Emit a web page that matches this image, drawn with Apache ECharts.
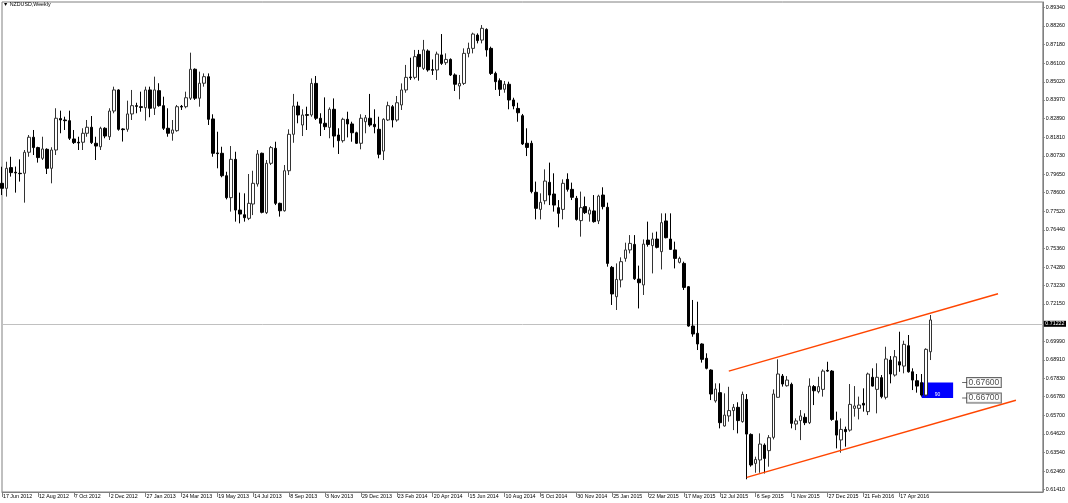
<!DOCTYPE html>
<html><head><meta charset="utf-8">
<script src="https://cdn.jsdelivr.net/npm/echarts@6/dist/echarts.min.js"></script>
<style>html,body{margin:0;padding:0;background:#fff}#c{width:1068px;height:503px}</style>
</head><body><div id="c"></div>
<script>
// Weekly NZDUSD candles (index 0 = week of 17 Jun 2012)
const opens = [0.7914,0.7885,0.8005,0.7978,0.7972,0.7972,0.8094,0.8181,0.8121,0.8059,0.8111,0.8001,0.8107,0.8289,0.8281,0.8277,0.8171,0.8152,0.8152,0.8204,0.8239,0.8146,0.8126,0.8233,0.8184,0.8333,0.8455,0.8229,0.8227,0.8316,0.8364,0.8358,0.8352,0.8455,0.8349,0.8451,0.8364,0.8233,0.8204,0.8219,0.8360,0.8358,0.8407,0.8575,0.8407,0.8494,0.8532,0.8287,0.8090,0.8088,0.7958,0.7831,0.8053,0.7759,0.7732,0.7711,0.7794,0.7910,0.8088,0.7744,0.8030,0.8117,0.7798,0.7755,0.7987,0.8198,0.8362,0.8252,0.8312,0.8310,0.8493,0.8291,0.8262,0.8238,0.8343,0.8194,0.8161,0.8285,0.8258,0.8207,0.8146,0.8271,0.8291,0.8256,0.8227,0.8101,0.8281,0.8358,0.8281,0.8368,0.8455,0.8530,0.8528,0.8661,0.8580,0.8681,0.8573,0.8571,0.8658,0.8613,0.8632,0.8542,0.8478,0.8493,0.8667,0.8696,0.8773,0.8744,0.8806,0.8696,0.8551,0.8509,0.8459,0.8488,0.8397,0.8348,0.8306,0.8146,0.8146,0.7862,0.7763,0.7813,0.7920,0.7852,0.7773,0.7763,0.7937,0.7879,0.7827,0.7698,0.7779,0.7736,0.7754,0.7696,0.7846,0.7775,0.7427,0.7257,0.7354,0.7479,0.7528,0.7560,0.7359,0.7325,0.7585,0.7553,0.7591,0.7518,0.7696,0.7591,0.7528,0.7456,0.7450,0.7315,0.7087,0.7045,0.6983,0.6900,0.6832,0.6653,0.6701,0.6508,0.6566,0.6597,0.6616,0.6533,0.6662,0.6459,0.6291,0.6311,0.6397,0.6365,0.6442,0.6674,0.6797,0.6741,0.6749,0.6519,0.6539,0.6558,0.6527,0.6736,0.6707,0.6720,0.6830,0.6826,0.6538,0.6427,0.6488,0.6484,0.6610,0.6610,0.6639,0.6591,0.6790,0.6720,0.6788,0.6674,0.6890,0.6803,0.6880,0.6855,0.6973,0.6822,0.6770,0.6759,0.6687,0.6938];
const highs = [0.8010,0.8039,0.8068,0.8011,0.8053,0.8107,0.8194,0.8223,0.8126,0.8184,0.8117,0.8123,0.8349,0.8335,0.8300,0.8335,0.8223,0.8184,0.8233,0.8281,0.8304,0.8184,0.8242,0.8239,0.8349,0.8474,0.8459,0.8233,0.8393,0.8455,0.8381,0.8445,0.8474,0.8474,0.8532,0.8494,0.8416,0.8349,0.8281,0.8368,0.8368,0.8445,0.8671,0.8580,0.8561,0.8551,0.8551,0.8314,0.8213,0.8126,0.7981,0.8130,0.8097,0.7860,0.7856,0.7968,0.7987,0.8107,0.8092,0.8049,0.8130,0.8155,0.7802,0.8020,0.8227,0.8432,0.8387,0.8343,0.8358,0.8522,0.8536,0.8320,0.8412,0.8354,0.8406,0.8233,0.8294,0.8329,0.8271,0.8213,0.8314,0.8310,0.8432,0.8343,0.8300,0.8291,0.8387,0.8368,0.8420,0.8493,0.8600,0.8642,0.8687,0.8687,0.8745,0.8690,0.8632,0.8677,0.8779,0.8667,0.8638,0.8551,0.8542,0.8696,0.8729,0.8787,0.8783,0.8831,0.8812,0.8706,0.8561,0.8522,0.8507,0.8503,0.8410,0.8381,0.8316,0.8233,0.8161,0.7924,0.7856,0.7995,0.8034,0.7972,0.7817,0.7937,0.7972,0.7918,0.7841,0.7866,0.7837,0.7775,0.7846,0.7848,0.7891,0.7802,0.7435,0.7450,0.7485,0.7570,0.7614,0.7614,0.7437,0.7589,0.7692,0.7628,0.7634,0.7740,0.7740,0.7740,0.7576,0.7489,0.7460,0.7319,0.7238,0.7228,0.6987,0.6929,0.6836,0.6755,0.6755,0.6697,0.6735,0.6635,0.6645,0.6707,0.6693,0.6465,0.6330,0.6465,0.6407,0.6455,0.6720,0.6894,0.6809,0.6797,0.6759,0.6552,0.6600,0.6581,0.6784,0.6745,0.6793,0.6836,0.6880,0.6832,0.6591,0.6552,0.6504,0.6751,0.6739,0.6678,0.6726,0.6817,0.6842,0.6871,0.6803,0.6967,0.6913,0.6948,0.7054,0.7002,0.7035,0.6842,0.6809,0.6809,0.6958,0.7151];
const lows = [0.7846,0.7837,0.7953,0.7860,0.7924,0.7802,0.8068,0.8078,0.8034,0.8049,0.7968,0.7914,0.8078,0.8204,0.8223,0.8165,0.8142,0.8107,0.8107,0.8184,0.8142,0.8049,0.8107,0.8175,0.8165,0.8320,0.8219,0.8156,0.8213,0.8281,0.8320,0.8329,0.8277,0.8297,0.8310,0.8358,0.8223,0.8184,0.8161,0.8213,0.8339,0.8349,0.8397,0.8397,0.8358,0.8474,0.8252,0.8068,0.8001,0.7949,0.7821,0.7750,0.7692,0.7682,0.7692,0.7701,0.7730,0.7895,0.7740,0.7736,0.8020,0.7788,0.7721,0.7750,0.7962,0.8149,0.8262,0.8188,0.8223,0.8300,0.8281,0.8188,0.8223,0.8175,0.8122,0.8084,0.8150,0.8180,0.8155,0.8142,0.8111,0.8204,0.8242,0.8204,0.8059,0.8049,0.8275,0.8238,0.8271,0.8339,0.8439,0.8513,0.8517,0.8509,0.8571,0.8561,0.8542,0.8513,0.8600,0.8600,0.8536,0.8449,0.8401,0.8484,0.8644,0.8667,0.8725,0.8725,0.8648,0.8542,0.8455,0.8420,0.8439,0.8343,0.8343,0.8271,0.8136,0.8072,0.7856,0.7705,0.7705,0.7792,0.7788,0.7750,0.7659,0.7705,0.7866,0.7817,0.7698,0.7605,0.7736,0.7692,0.7686,0.7678,0.7763,0.7431,0.7209,0.7180,0.7311,0.7460,0.7508,0.7354,0.7189,0.7267,0.7547,0.7392,0.7537,0.7415,0.7595,0.7528,0.7421,0.7450,0.7296,0.7083,0.7025,0.6948,0.6875,0.6836,0.6658,0.6643,0.6494,0.6504,0.6533,0.6484,0.6465,0.6527,0.6199,0.6272,0.6237,0.6237,0.6233,0.6272,0.6430,0.6672,0.6736,0.6736,0.6494,0.6484,0.6426,0.6513,0.6519,0.6629,0.6697,0.6678,0.6822,0.6538,0.6378,0.6353,0.6388,0.6475,0.6562,0.6546,0.6591,0.6571,0.6736,0.6581,0.6668,0.6662,0.6755,0.6794,0.6822,0.6813,0.6817,0.6716,0.6701,0.6678,0.6678,0.6890];
const closes = [0.7885,0.8001,0.7976,0.7974,0.7970,0.8094,0.8181,0.8121,0.8063,0.8113,0.8001,0.8107,0.8291,0.8281,0.8277,0.8175,0.8150,0.8148,0.8204,0.8239,0.8150,0.8130,0.8233,0.8188,0.8333,0.8455,0.8227,0.8225,0.8316,0.8364,0.8360,0.8354,0.8455,0.8349,0.8455,0.8364,0.8233,0.8204,0.8223,0.8358,0.8356,0.8410,0.8575,0.8407,0.8494,0.8532,0.8285,0.8088,0.8086,0.7958,0.7831,0.8053,0.7759,0.7736,0.7715,0.7798,0.7914,0.8084,0.7746,0.8030,0.8121,0.7798,0.7755,0.7987,0.8198,0.8362,0.8310,0.8310,0.8308,0.8493,0.8291,0.8262,0.8242,0.8343,0.8188,0.8161,0.8285,0.8258,0.8207,0.8146,0.8291,0.8294,0.8252,0.8242,0.8082,0.8285,0.8364,0.8281,0.8381,0.8455,0.8528,0.8526,0.8648,0.8590,0.8687,0.8571,0.8569,0.8663,0.8609,0.8632,0.8542,0.8488,0.8493,0.8667,0.8696,0.8779,0.8741,0.8812,0.8687,0.8551,0.8503,0.8459,0.8488,0.8397,0.8362,0.8323,0.8142,0.8122,0.7866,0.7769,0.7804,0.7927,0.7846,0.7788,0.7740,0.7914,0.7879,0.7833,0.7705,0.7773,0.7744,0.7759,0.7692,0.7840,0.7779,0.7450,0.7273,0.7357,0.7460,0.7528,0.7566,0.7361,0.7338,0.7562,0.7560,0.7591,0.7543,0.7686,0.7599,0.7531,0.7479,0.7479,0.7311,0.7087,0.7041,0.6983,0.6894,0.6842,0.6693,0.6722,0.6527,0.6571,0.6597,0.6616,0.6539,0.6691,0.6461,0.6282,0.6314,0.6403,0.6320,0.6440,0.6693,0.6809,0.6751,0.6774,0.6523,0.6537,0.6566,0.6527,0.6739,0.6712,0.6736,0.6826,0.6826,0.6546,0.6455,0.6488,0.6475,0.6633,0.6624,0.6629,0.6629,0.6809,0.6739,0.6790,0.6678,0.6896,0.6809,0.6909,0.6861,0.6981,0.6822,0.6774,0.6739,0.6687,0.6952,0.71222];

const dateLabels = ['17 Jun 2012','12 Aug 2012','7 Oct 2012','2 Dec 2012','27 Jan 2013','24 Mar 2013','19 May 2013','14 Jul 2013','8 Sep 2013','3 Nov 2013','29 Dec 2013','23 Feb 2014','20 Apr 2014','15 Jun 2014','10 Aug 2014','5 Oct 2014','30 Nov 2014','25 Jan 2015','22 Mar 2015','17 May 2015','12 Jul 2015','6 Sep 2015','1 Nov 2015','27 Dec 2015','21 Feb 2016','17 Apr 2016'];
const yTickLabels = ['0.89340','0.88260','0.87180','0.86100','0.85020','0.83970','0.82890','0.81810','0.80730','0.79650','0.78600','0.77520','0.76440','0.75360','0.74280','0.73230','0.72150','0.69990','0.68910','0.67830','0.66780','0.65700','0.64620','0.63540','0.62460','0.61410'];
const currentPrice = 0.71222;
const upperChannel = [[162, 0.6826], [222, 0.7274]];
const lowerChannel = [[166, 0.6210], [226, 0.6657]];
const boxIdx = [205, 212];
const boxPrices = [0.676, 0.667];
const boxText = '90';
const priceLabelIdx = 214;
const priceLabels = [0.676, 0.667];
const totalSlots = 233;
const labelStep = 8;

const months = ['Jan','Feb','Mar','Apr','May','Jun','Jul','Aug','Sep','Oct','Nov','Dec'];
const categories = [];
const t0 = Date.UTC(2012, 5, 17);
for (let i = 0; i < totalSlots; i++) {
  const d = new Date(t0 + i * 7 * 864e5);
  categories.push(d.getUTCDate() + ' ' + months[d.getUTCMonth()] + ' ' + d.getUTCFullYear());
}
const candles = opens.map((o, i) => [o, closes[i], lows[i], highs[i]]);
const nBars = opens.length;
const FONT = 'Liberation Sans';
const showLab = (idx) => idx % labelStep === 0 && idx < nBars;

const chart = echarts.init(document.getElementById('c'), null, {renderer: 'canvas'});
chart.setOption({
  animation: false,
  backgroundColor: '#ffffff',
  title: {
    text: '\u25BC NZDUSD,Weekly', left: 3, top: 2, padding: 0,
    textStyle: {fontSize: 5.3, fontWeight: 'normal', color: '#000', fontFamily: FONT}
  },
  grid: {left: 2, right: 24, top: 2, bottom: 11, show: true, borderColor: '#808080', borderWidth: 1, backgroundColor: 'transparent'},
  xAxis: {
    type: 'category', data: categories, boundaryGap: false,
    axisLine: {lineStyle: {color: '#808080', width: 1}},
    axisTick: {show: true, length: 5, interval: (i) => showLab(i), lineStyle: {color: '#808080'}},
    axisLabel: {
      interval: (i) => showLab(i), align: 'left', margin: 2, padding: [0, 0, 0, 1],
      fontSize: 5.3, color: '#000', fontFamily: FONT,
      formatter: (v, i) => dateLabels[Math.round(i / labelStep)] || v
    },
    splitLine: {show: false}
  },
  yAxis: {
    type: 'value', position: 'right', min: 0.61253, max: 0.89647,
    axisLine: {show: true, lineStyle: {color: '#808080', width: 1}},
    axisTick: {show: true, length: 2, customValues: yTickLabels.map(Number), lineStyle: {color: '#808080'}},
    axisLabel: {
      customValues: yTickLabels.map(Number), margin: 3, fontSize: 5.3, color: '#000', fontFamily: FONT,
      formatter: (v) => v.toFixed(5)
    },
    splitLine: {show: false}
  },
  series: [
    {
      type: 'line', data: [], z: 1, silent: true,
      markArea: {
        silent: true,
        itemStyle: {color: '#0000ff'},
        label: {show: true, position: 'insideBottom', distance: 1, color: '#fff', fontSize: 5, fontFamily: FONT, formatter: boxText},
        data: [[{xAxis: categories[boxIdx[0]], yAxis: boxPrices[0]}, {xAxis: categories[boxIdx[1]], yAxis: boxPrices[1]}]]
      }
    },
    {
      type: 'candlestick', data: candles, z: 3, barWidth: 3, silent: true,
      itemStyle: {color: '#ffffff', color0: '#000000', borderColor: '#333333', borderColor0: '#000000', borderWidth: 1},
      markLine: {
        silent: true, symbol: ['none', 'none'], z: 2,
        lineStyle: {color: '#c0c0c0', width: 1, type: 'solid'},
        label: {show: true, position: 'end', distance: 1, formatter: currentPrice.toFixed(5),
          color: '#fff', backgroundColor: '#000', padding: [0.5, 1.5], fontSize: 5.3, fontFamily: FONT},
        data: [{yAxis: currentPrice}]
      }
    },
    {
      type: 'line', data: upperChannel.map(p => [categories[p[0]], p[1]]), z: 4, silent: true,
      symbol: 'none', lineStyle: {color: '#ff4500', width: 1.4}
    },
    {
      type: 'line', data: lowerChannel.map(p => [categories[p[0]], p[1]]), z: 4, silent: true,
      symbol: 'none', lineStyle: {color: '#ff4500', width: 1.4}
    },
    {
      type: 'scatter', data: priceLabels.map(p => [categories[priceLabelIdx], p]), z: 5, silent: true,
      symbol: 'rect', symbolSize: [5, 1], symbolOffset: [2.5, 0], itemStyle: {color: '#404040'},
      label: {show: true, position: 'right', distance: 0, formatter: (p) => p.value[1].toFixed(5),
        fontSize: 8.5, lineHeight: 9, color: '#222', fontFamily: FONT,
        backgroundColor: '#fff', borderColor: '#404040', borderWidth: 1, padding: [0, 1.5]}
    }
  ]
});
</script></body></html>
